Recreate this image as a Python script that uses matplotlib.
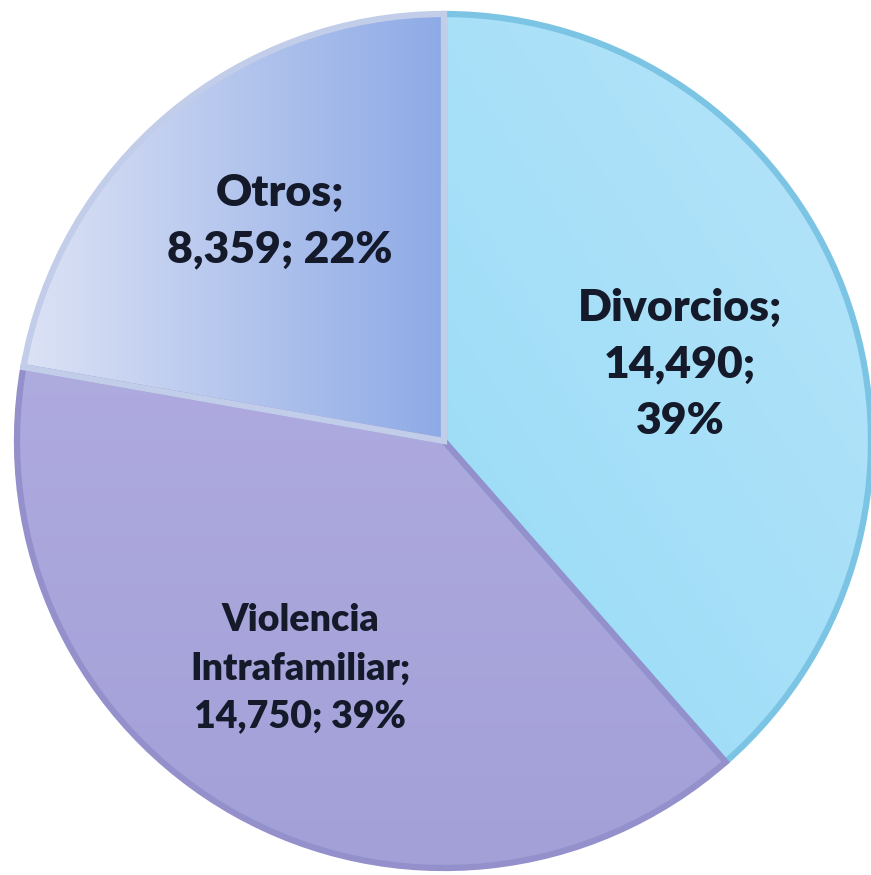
import numpy as np
import matplotlib
matplotlib.use("Agg")
import matplotlib.pyplot as plt
from matplotlib.colors import LinearSegmentedColormap

categorias = ["Divorcios", "Violencia\nIntrafamiliar", "Otros"]
valores = [14490, 14750, 8359]
porcentajes = [39, 39, 22]

# colores de cada porcion: (inicio degradado, fin degradado, borde)
colores = [("#88d5f5", "#b6e5fa", "#7cc4e4"),
           ("#a3a0d8", "#b6b2e4", "#9390cc"),
           ("#dde3f5", "#8eaae6", "#c2cdea")]

fig = plt.figure(figsize=(8.71, 8.75), dpi=100)
ax = fig.add_axes([0, 0, 1, 1])

wedges, _ = ax.pie(valores, startangle=90, counterclock=False, radius=1,
                   wedgeprops=dict(linewidth=0))

# degradados dentro de cada porcion
n = 300
xx, yy = np.meshgrid(np.linspace(-1, 1, n), np.linspace(-1, 1, n))
campos = [0.6 * (xx + 1) / 2 + 0.4 * (yy + 1) / 2,   # diagonal
          (yy + 1) / 2,                              # vertical
          (xx + 1) / 1.0]                            # horizontal (lado izq.)
for w, (c1, c2, ce), campo in zip(wedges, colores, campos):
    cmap = LinearSegmentedColormap.from_list("g", [c1, c2])
    im = ax.imshow(np.clip(campo, 0, 1), cmap=cmap, extent=(-1, 1, -1, 1),
                   origin="lower", vmin=0, vmax=1, zorder=1,
                   interpolation="bilinear")
    im.set_clip_path(w)
    w.set_facecolor("none")
    w.set_edgecolor(ce)
    w.set_linewidth(4.5)
    w.set_zorder(2)

texto = dict(ha="center", va="center", fontweight="heavy", color="#141a2a",
             family=["Lato", "DejaVu Sans"], zorder=3)
ax.text(0.553, 0.18, f"{categorias[0]};\n{valores[0]:,};\n{porcentajes[0]}%",
        fontsize=32, linespacing=1.5, **texto)
ax.text(-0.337, -0.532, f"{categorias[1]};\n{valores[1]:,}; {porcentajes[1]}%",
        fontsize=27, linespacing=1.5, **texto)
ax.text(-0.384, 0.515, f"{categorias[2]};\n{valores[2]:,}; {porcentajes[2]}%",
        fontsize=32, linespacing=1.5, **texto)

ax.set_aspect("auto")
ax.set_xlim(-444 / 427, 427 / 427)
ax.set_ylim(-434 / 427, 441 / 427)
ax.axis("off")

fig.savefig("out.png", dpi=100, facecolor="white")
